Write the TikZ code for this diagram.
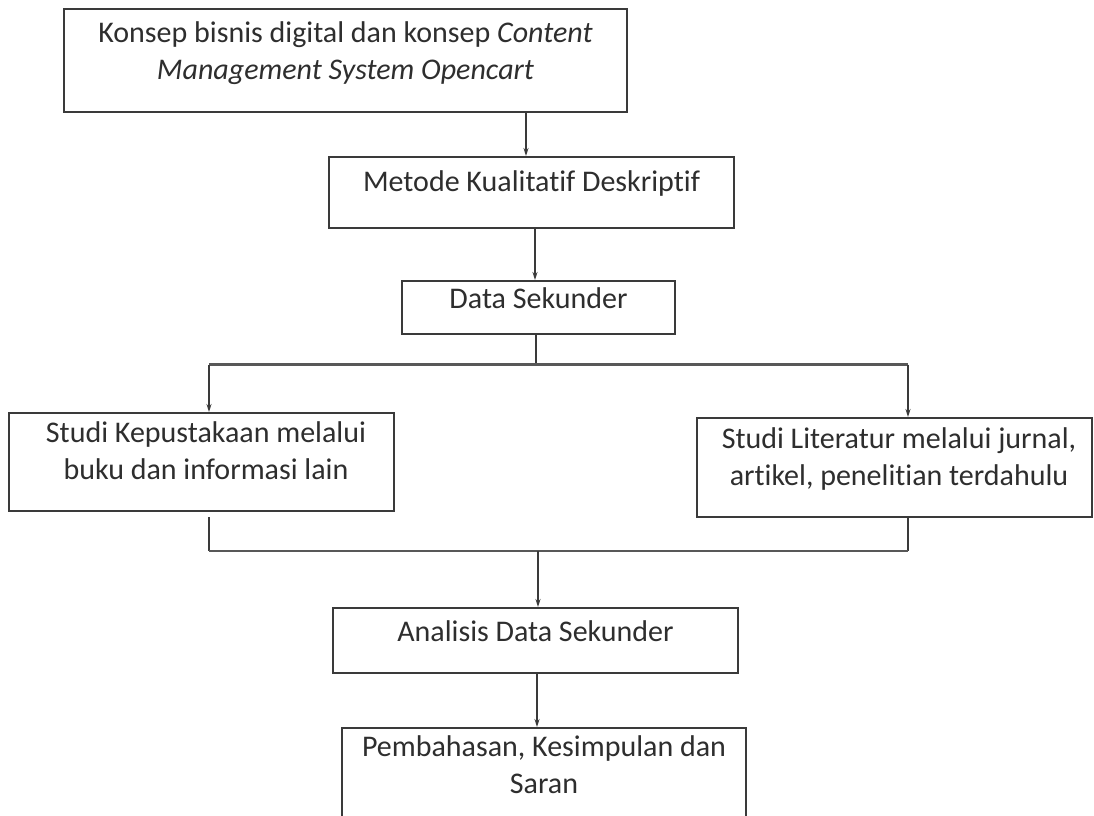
\documentclass[tikz,border=0pt]{standalone}
\usepackage{fontspec}
\setmainfont{Carlito}[Ligatures={NoCommon}]
\usetikzlibrary{arrows.meta}
\definecolor{ink}{HTML}{2E2E2E}
\definecolor{edge}{HTML}{3A3A3A}
\tikzset{
  boxnode/.style={draw=edge, line width=2pt, rectangle, inner sep=0pt, fill=white},
  txt/.style={text=ink, align=center, inner sep=0pt, font=\fontsize{30}{37}\selectfont},
  arr/.style={draw=edge, line width=1.3pt, -{Stealth[length=8pt,width=5pt]}},
  bus/.style={draw=edge!85!white, line width=2.8pt},
  wire/.style={draw=edge, line width=1.5pt},
}
\begin{document}
\begin{tikzpicture}[x=1pt,y=-1pt]
\useasboundingbox (0,0) rectangle (1094,815);
\clip (0,0) rectangle (1094,815);
\fill[white] (0,0) rectangle (1094,815);
% boxes
\node[boxnode, minimum width=563pt, minimum height=103pt] (b1) at (345.5,60.5) {};
\node[boxnode, minimum width=405pt, minimum height=71pt] (b2) at (531.5,192.5) {};
\node[boxnode, minimum width=273pt, minimum height=53pt] (b3) at (538.5,307.5) {};
\node[boxnode, minimum width=385pt, minimum height=98pt] (b4) at (201.5,462) {};
\node[boxnode, minimum width=395pt, minimum height=99pt] (b5) at (894.5,467.5) {};
\node[boxnode, minimum width=405pt, minimum height=65pt] (b6) at (535.5,640.5) {};
\node[boxnode, minimum width=404pt, minimum height=112pt] (b7) at (544,784) {};
% texts
\node[txt] (t1) at (345.5,53) {Konsep bisnis digital dan konsep \textit{Content}\\\textit{Management System Opencart}};
\node[txt] (t2) at (531.5,183) {Metode Kualitatif Deskriptif};
\node[txt] (t3) at (538.5,298) {Data Sekunder};
\node[txt] (t4) at (206,451) {Studi Kepustakaan melalui\\buku dan informasi lain};
\node[txt] (t5) at (899,459) {Studi Literatur melalui jurnal,\\artikel, penelitian terdahulu};
\node[txt] (t6) at (535.5,631) {Analisis Data Sekunder};
\node[txt] (t7) at (544,765) {Pembahasan, Kesimpulan dan\\Saran};
% connectors
\draw[arr] ([xshift=180.5pt]b1.south) coordinate (s1) -- (s1 |- b2.north);
\draw[arr] ([xshift=3.5pt]b2.south) coordinate (s2) -- (s2 |- b3.north);
\coordinate (busL) at (209,364.5);
\coordinate (busR) at (908,364.5);
\draw[wire] ([xshift=-2.5pt]b3.south) coordinate (s3) -- (s3 |- busL);
\draw[bus] (busL) -- (busR);
\draw[arr] (busL) -- (busL |- b4.north);
\draw[arr] (busR) -- (busR |- b5.north);
\coordinate (botL) at (209,551);
\coordinate (botR) at (908,551);
\draw[wire] ([yshift=-5pt]b4.south -| botL) -- (botL);
\draw[wire] (b5.south -| botR) -- (botR);
\draw[bus] (botL) -- (botR);
\draw[arr] ([xshift=2.5pt]b6.north |- botL) coordinate (s4) -- (s4 |- b6.north);
\draw[arr] ([xshift=1.5pt]b6.south) coordinate (s5) -- (s5 |- b7.north);
\end{tikzpicture}
\end{document}
